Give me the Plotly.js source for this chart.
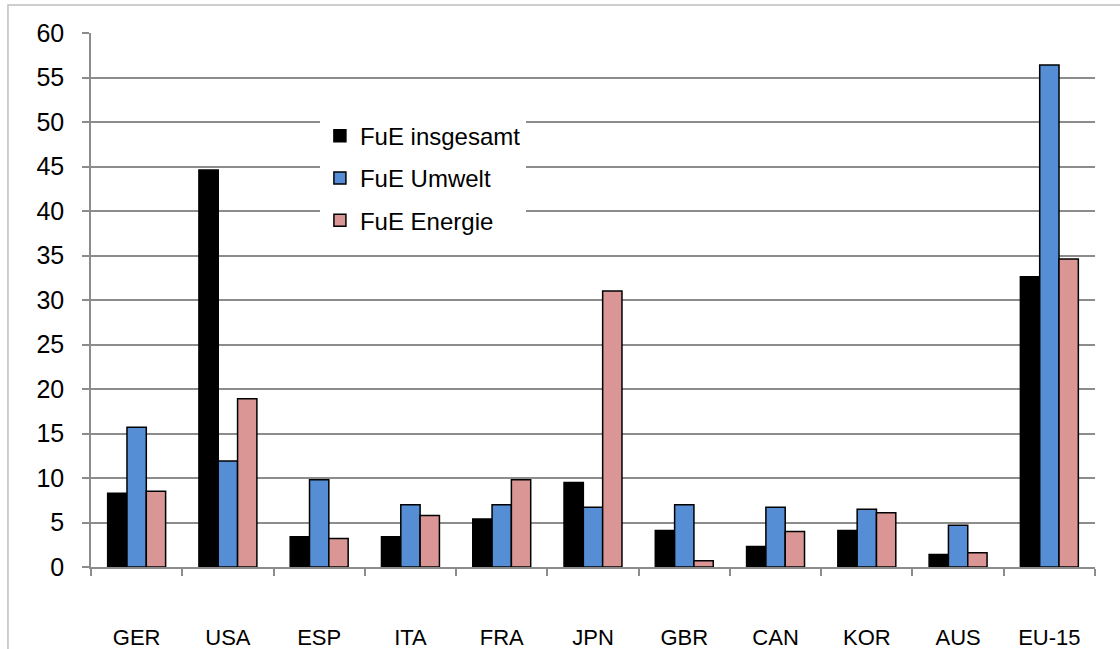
<!DOCTYPE html>
<html>
<head>
<meta charset="utf-8">
<script src="https://cdn.plot.ly/plotly-3.0.1.min.js"></script>
<style>
  html, body { margin: 0; padding: 0; background: #fff; }
  #chart { width: 1120px; height: 649px; }
</style>
</head>
<body>
<div id="chart"></div>
<script>
const categories = ["GER", "USA", "ESP", "ITA", "FRA", "JPN", "GBR", "CAN", "KOR", "AUS", "EU-15"];
const fueInsgesamt = [8.3, 44.6, 3.4, 3.4, 5.4, 9.5, 4.1, 2.3, 4.1, 1.4, 32.6];
const fueUmwelt    = [15.7, 11.9, 9.8, 7.0, 7.0, 6.7, 7.0, 6.7, 6.5, 4.7, 56.4];
const fueEnergie   = [8.5, 18.9, 3.2, 5.8, 9.8, 31.0, 0.7, 4.0, 6.1, 1.6, 34.6];
const seriesNames  = ["FuE insgesamt", "FuE Umwelt", "FuE Energie"];
const yTicks = [0, 5, 10, 15, 20, 25, 30, 35, 40, 45, 50, 55, 60];

const colors = ["#000000", "#558ED5", "#D99694"];
const seriesData = [fueInsgesamt, fueUmwelt, fueEnergie];

const traces = seriesData.map((vals, i) => ({
  type: "bar",
  name: seriesNames[i],
  x: categories,
  y: vals,
  legendgroup: "g" + i,
  marker: { color: colors[i], line: { color: "#000000", width: 1.5 } },
  hoverinfo: "x+y+name"
}));

const layout = {
  width: 1120,
  height: 649,
  margin: { l: 91, r: 25, t: 33, b: 82, pad: 0 },
  paper_bgcolor: "#ffffff",
  plot_bgcolor: "#ffffff",
  font: { family: "Liberation Sans, Arial, sans-serif", color: "#000000" },
  barmode: "group",
  bargap: 0.365,
  bargroupgap: 0,
  showlegend: true,
  legend: {
    x: 0.228, xanchor: "left",
    y: 0.849, yanchor: "top",
    bgcolor: "#ffffff",
    borderwidth: 0,
    traceorder: "grouped",
    tracegroupgap: 8,
    font: { size: 24, color: "#000000" }
  },
  xaxis: {
    type: "category",
    showgrid: false,
    showline: true,
    linecolor: "#8c8c8c",
    linewidth: 1.5,
    ticks: "outside",
    tickson: "boundaries",
    ticklen: 7,
    tickcolor: "#8c8c8c",
    tickwidth: 1.5,
    tickfont: { size: 22, color: "#000000" },
    ticklabelstandoff: 50,
    fixedrange: true
  },
  yaxis: {
    range: [0, 60],
    tickvals: yTicks,
    ticktext: yTicks.map(String),
    showgrid: true,
    gridcolor: "#8c8c8c",
    gridwidth: 1.5,
    zeroline: false,
    showline: true,
    linecolor: "#8c8c8c",
    linewidth: 1.5,
    ticks: "outside",
    ticklen: 7,
    tickcolor: "#8c8c8c",
    tickwidth: 1.5,
    tickfont: { size: 25, color: "#000000" },
    ticklabelstandoff: 13,
    fixedrange: true
  },
  shapes: [{
    type: "rect", xref: "paper", yref: "paper",
    x0: -0.0827, x1: 1.03, y0: -0.174, y1: 1.0524,
    line: { color: "#bfbfbf", width: 1.5 }, fillcolor: "rgba(0,0,0,0)",
    layer: "below"
  }]
};

Plotly.newPlot("chart", traces, layout, { displayModeBar: false, staticPlot: false });
</script>
</body>
</html>
